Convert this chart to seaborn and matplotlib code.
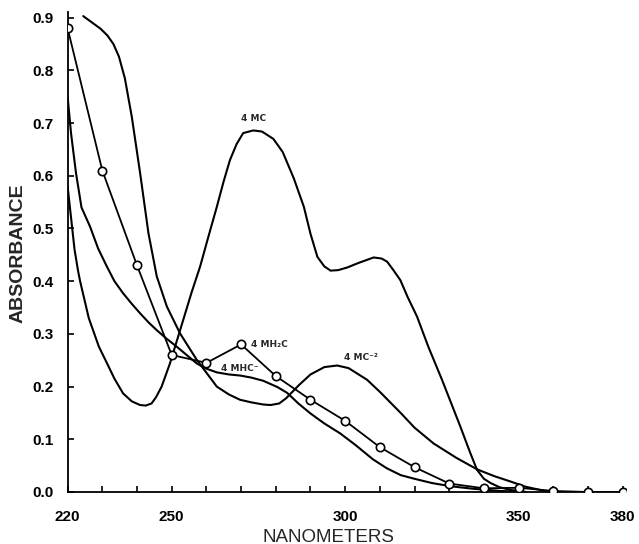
import matplotlib
matplotlib.use("Agg")
import matplotlib.pyplot as plt
import seaborn as sns

# ---- data ----
mc_nm = [220, 221, 222, 223, 223.6, 226.1, 229, 231.3, 233.5, 236, 238.5, 240.9, 242.5, 244.2,
         245.5, 247.1, 249.5, 253.3, 255.7, 258.2, 260.6, 263, 265, 266.8, 268.7, 270.6, 273.5,
         276, 279.3, 282, 285.2, 288.1, 290, 292, 294, 295.8, 298, 300.6, 304, 308.2, 310.5,
         312.1, 314, 315.9, 318, 320.7, 324, 327.9, 333.2, 336, 338, 340, 341.9, 344.5, 347.6, 352]
mc_abs = [0.58, 0.52, 0.46, 0.42, 0.40, 0.330, 0.276, 0.245, 0.215, 0.187, 0.172, 0.165, 0.164, 0.168,
          0.18, 0.2, 0.244, 0.326, 0.378, 0.428, 0.485, 0.541, 0.59, 0.63, 0.66, 0.681, 0.686,
          0.684, 0.67, 0.645, 0.595, 0.541, 0.49, 0.446, 0.428, 0.42, 0.421, 0.426, 0.435, 0.445, 0.443,
          0.437, 0.42, 0.402, 0.37, 0.333, 0.275, 0.213, 0.124, 0.075, 0.042, 0.025, 0.017, 0.009, 0.004, 0.0]

mc2_nm = [224.5, 227, 229.5, 231.5, 233.2, 234.8, 236.5, 238.5, 240.9, 243.3, 245.7, 248.6, 252.4, 257.2,
          263, 266.5, 269.7, 273, 276.4, 278.5, 281, 283, 286.7, 290, 294, 297.7, 301,
          306.3, 310, 316, 320, 325.5, 332, 338, 343, 347.6, 352, 358.2, 362]
mc2_abs = [0.903, 0.891, 0.879, 0.866, 0.85, 0.826, 0.785, 0.712, 0.605, 0.491, 0.409, 0.352, 0.301, 0.251,
           0.2, 0.185, 0.175, 0.17, 0.166, 0.165, 0.168, 0.178, 0.203, 0.223, 0.237, 0.24, 0.235,
           0.213, 0.19, 0.15, 0.122, 0.092, 0.065, 0.043, 0.03, 0.02, 0.01, 0.001, 0.0]

mhc_nm = [220, 221, 222.4, 224, 226.5, 228.8, 231.3, 233.5, 236, 238.5, 240.9, 243.3, 245.7, 248.5,
          251.4, 254.3, 257.2, 260, 263, 266.5, 269.7, 273, 276.4, 280.5, 283.3, 286.5, 290, 294,
          298.6, 303, 308, 312, 316, 320, 325, 330.3, 337, 344.7, 352]
mhc_abs = [0.75, 0.68, 0.606, 0.54, 0.503, 0.462, 0.428, 0.40, 0.377, 0.357, 0.339, 0.322, 0.307, 0.291,
           0.276, 0.26, 0.244, 0.234, 0.227, 0.223, 0.221, 0.217, 0.211, 0.199, 0.188, 0.168, 0.149, 0.13,
           0.111, 0.089, 0.062, 0.045, 0.032, 0.025, 0.017, 0.011, 0.006, 0.002, 0.0]

mh2c_nm = [220, 230, 240, 250, 260, 270, 280, 290, 300, 310, 320, 330, 340, 350, 360, 370, 380]
mh2c_abs = [0.88, 0.61, 0.43, 0.26, 0.245, 0.28, 0.22, 0.175, 0.135, 0.085, 0.047, 0.016, 0.007,
            0.008, 0.002, 0.0, 0.0]

xtick_pos = list(range(220, 381, 10))
xtick_labeled = [220, 250, 300, 350, 380]
ytick_pos = [0.0, 0.1, 0.2, 0.3, 0.4, 0.5, 0.6, 0.7, 0.8, 0.9]

# ---- style ----
sns.set_style("ticks")
plt.rcParams['font.family'] = ['Liberation Sans', 'DejaVu Sans']

fig = plt.figure(figsize=(6.39, 5.44), dpi=100)
ax = fig.add_axes([0.1058, 0.0956, 0.8742, 0.8816])

lw = 1.5
sns.lineplot(x=mc_nm, y=mc_abs, sort=False, estimator=None, color='black', lw=lw, ax=ax)
sns.lineplot(x=mc2_nm, y=mc2_abs, sort=False, estimator=None, color='black', lw=lw, ax=ax)
sns.lineplot(x=mhc_nm, y=mhc_abs, sort=False, estimator=None, color='black', lw=lw, ax=ax)
sns.lineplot(x=mh2c_nm, y=mh2c_abs, sort=False, estimator=None, color='black', lw=1.3, ax=ax,
             marker='o', markersize=6, markerfacecolor='white', markeredgecolor='black',
             markeredgewidth=1.2, zorder=5)

ax.set_xlim(220, 381)
ax.set_ylim(0, 0.91)
ax.set_xticks(xtick_pos)
ax.set_xticklabels([str(v) if v in xtick_labeled else '' for v in xtick_pos])
ax.set_yticks(ytick_pos)
ax.set_yticklabels([f"{v:.1f}" for v in ytick_pos])
ax.tick_params(axis='both', direction='in', length=4, width=1.2, colors='black')
ax.tick_params(axis='x', pad=13, labelsize=11)
ax.tick_params(axis='y', pad=10, labelsize=11)
for lab in ax.get_xticklabels() + ax.get_yticklabels():
    lab.set_fontweight('bold')

sns.despine(ax=ax)
for s in ['left', 'bottom']:
    ax.spines[s].set_linewidth(1.3)
    ax.spines[s].set_color('black')

ax.set_xlabel('')
ax.set_ylabel('')
fig.text(328 / 639, 1 - 537 / 544, 'NANOMETERS', ha='center', va='center', fontsize=13.5)
fig.text(18 / 639, 1 - 253 / 544, 'ABSORBANCE', ha='center', va='center', fontsize=14,
         rotation=90, fontweight='bold')

tk = dict(fontsize=6.5, fontweight='bold', family=['DejaVu Sans'])
ax.text(273.7, 0.70, '4 MC', ha='center', va='bottom', **tk)
ax.text(272.9, 0.28, '4 MH₂C', ha='left', va='center', **tk)
ax.text(269.5, 0.234, '4 MHC⁻', ha='center', va='center', **tk)
ax.text(304.5, 0.255, '4 MC⁻²', ha='center', va='center', **tk)

fig.savefig('out.png', dpi=100)
